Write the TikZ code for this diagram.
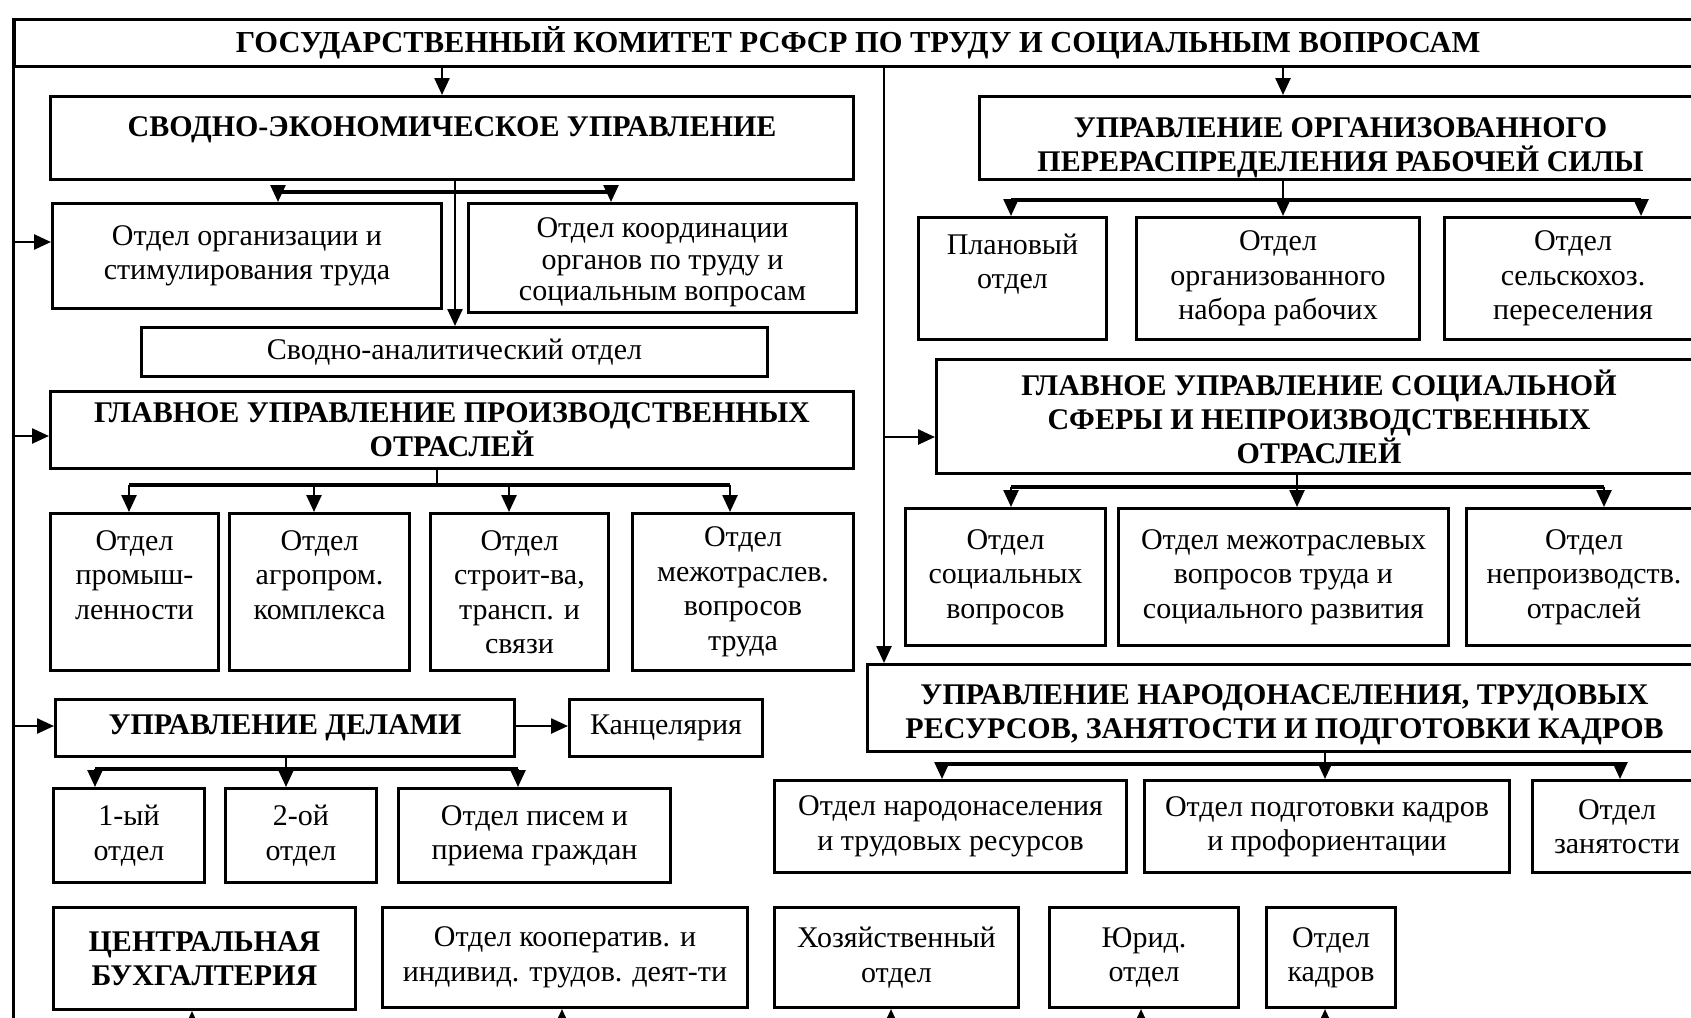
\documentclass[tikz,border=0pt]{standalone}
\usepackage{fontspec}
\setmainfont{Liberation Serif}
\usetikzlibrary{arrows.meta}
\begin{document}
\begin{tikzpicture}[x=1pt,y=-1pt,
  box/.style={draw, line width=3pt, inner sep=0pt, anchor=north west, align=center,
    font=\fontsize{30}{34.5}\selectfont},
  hd/.style={font=\fontsize{30}{34}\selectfont\bfseries},
  ln/.style={line width=2.5pt},
  bar/.style={line width=3.5pt},
  arr/.style={line width=2.5pt, -{Triangle[length=17pt,width=15pt]}}]
\useasboundingbox (0,0) rectangle (1691,1017);
\fill[white] (0,0) rectangle (1691,1017);
\clip (0,0) rectangle (1691,1017);
% ---- nodes
\node[box,hd,font=\fontsize{30.5}{34}\selectfont\bfseries,minimum width=1687pt,minimum height=47pt] (top) at (13,18) {ГОСУДАРСТВЕННЫЙ КОМИТЕТ РСФСР ПО ТРУДУ И СОЦИАЛЬНЫМ ВОПРОСАМ};
\node[box,hd,minimum width=803pt,minimum height=83pt,text height=22pt,text depth=25pt] (svod) at (49,95) {СВОДНО-ЭКОНОМИЧЕСКОЕ УПРАВЛЕНИЕ};
\node[box,minimum width=389pt,minimum height=105pt] (org) at (51,202) {Отдел организации и\\стимулирования труда};
\node[box,font=\fontsize{30}{31.5}\selectfont,minimum width=388pt,minimum height=109pt] (koord) at (467,202) {\rule{0pt}{29pt}Отдел координации\\органов по труду и\\социальным вопросам};
\node[box,minimum width=626pt,minimum height=49pt] (analit) at (140,326) {Сводно-аналитический отдел};
\node[box,hd,minimum width=803pt,minimum height=77pt] (proizv) at (49,390) {ГЛАВНОЕ УПРАВЛЕНИЕ ПРОИЗВОДСТВЕННЫХ\\ОТРАСЛЕЙ};
\node[box,minimum width=168pt,minimum height=157pt] (p1) at (49,512) {Отдел\\промыш-\\ленности\\~};
\node[box,minimum width=180pt,minimum height=157pt] (p2) at (228,512) {Отдел\\агропром.\\комплекса\\~};
\node[box,minimum width=178pt,minimum height=157pt] (p3) at (429,512) {Отдел\\строит-ва,\\трансп. и\\связи};
\node[box,minimum width=221pt,minimum height=157pt] (p4) at (631,512) {Отдел\\межотраслев.\\вопросов\\труда};
\node[box,hd,minimum width=459pt,minimum height=57pt] (dela) at (54,698) {УПРАВЛЕНИЕ ДЕЛАМИ};
\node[box,minimum width=193pt,minimum height=57pt] (kanc) at (568,698) {Канцелярия};
\node[box,minimum width=151pt,minimum height=94pt] (d1) at (52,787) {1-ый\\отдел};
\node[box,minimum width=151pt,minimum height=94pt] (d2) at (224,787) {2-ой\\отдел};
\node[box,minimum width=272pt,minimum height=94pt] (d3) at (397,787) {Отдел писем и\\приема граждан};
\node[box,hd,minimum width=302pt,minimum height=102pt] (buh) at (52,906) {ЦЕНТРАЛЬНАЯ\\БУХГАЛТЕРИЯ};
\node[box,minimum width=365pt,minimum height=100pt] (koop) at (381,906) {Отдел кооператив. и\\индивид. трудов. деят-ти};
\node[box,minimum width=244pt,minimum height=100pt] (hoz) at (773,906) {Хозяйственный\\отдел};
\node[box,minimum width=189pt,minimum height=100pt] (jur) at (1048,906) {Юрид.\\отдел};
\node[box,minimum width=129pt,minimum height=100pt] (kadr) at (1265,906) {Отдел\\кадров};
\node[box,hd,minimum width=722pt,minimum height=83pt] (orgper) at (978,95) {\rule{0pt}{39pt}УПРАВЛЕНИЕ ОРГАНИЗОВАННОГО\\ПЕРЕРАСПРЕДЕЛЕНИЯ РАБОЧЕЙ СИЛЫ};
\node[box,minimum width=188pt,minimum height=122pt] (plan) at (917,216) {Плановый\\отдел\\~};
\node[box,minimum width=283pt,minimum height=122pt] (nabor) at (1135,216) {Отдел\\организованного\\набора рабочих};
\node[box,minimum width=257pt,minimum height=122pt] (selsk) at (1443,216) {Отдел\\сельскохоз.\\переселения};
\node[box,hd,minimum width=765pt,minimum height=114pt] (socglav) at (935,358) {ГЛАВНОЕ УПРАВЛЕНИЕ СОЦИАЛЬНОЙ\\СФЕРЫ И НЕПРОИЗВОДСТВЕННЫХ\\ОТРАСЛЕЙ};
\node[box,minimum width=200pt,minimum height=137pt] (s1) at (904,507) {Отдел\\социальных\\вопросов};
\node[box,minimum width=330pt,minimum height=137pt] (s2) at (1117,507) {Отдел межотраслевых\\вопросов труда и\\социального развития};
\node[box,minimum width=235pt,minimum height=137pt] (s3) at (1465,507) {Отдел\\непроизводств.\\отраслей};
\node[box,hd,minimum width=834pt,minimum height=87pt] (narod) at (866,663) {\rule{0pt}{34pt}УПРАВЛЕНИЕ НАРОДОНАСЕЛЕНИЯ, ТРУДОВЫХ\\РЕСУРСОВ, ЗАНЯТОСТИ И ПОДГОТОВКИ КАДРОВ};
\node[box,minimum width=352pt,minimum height=92pt] (n1) at (773,779) {Отдел народонаселения\\и трудовых ресурсов};
\node[box,minimum width=365pt,minimum height=92pt] (n2) at (1143,779) {Отдел подготовки кадров\\и профориентации};
\node[box,minimum width=169pt,minimum height=92pt] (n3) at (1531,779) {Отдел\\занятости};
% ---- helper coordinates
\coordinate (bot) at (0,1035);
% left trunk
\draw[ln,line width=3pt] (top.north west) -- (top.north west |- bot);
\coordinate (y1) at (0,242); \coordinate (y2) at (0,436); \coordinate (y3) at (0,726);
\draw[arr] (top.north west |- y1) -- (org.west |- y1);
\draw[arr] (top.north west |- y2) -- (proizv.west |- y2);
\draw[arr] (top.north west |- y3) -- (dela.west |- y3);
\draw[arr] (dela.east |- y3) -- (kanc.west |- y3);
% top arrows
\coordinate (xa) at (442,0); \coordinate (xb) at (1283,0); \coordinate (xm) at (884,0);
\draw[arr] (xa |- top.south) -- (xa |- svod.north);
\draw[arr] (xb |- top.south) -- (xb |- orgper.north);
% middle trunk
\draw[arr] (xm |- top.south) -- (xm |- narod.north);
\coordinate (y4) at (0,437);
\draw[arr] (xm |- y4) -- (socglav.west |- y4);
% svod
\coordinate (xs) at (455,0); \coordinate (ys) at (0,192);
\coordinate (xo) at (278,0); \coordinate (xk) at (611,0);
\draw[arr] (xs |- svod.south) -- (xs |- analit.north);
\draw[bar] (xo |- ys) -- (xk |- ys);
\draw[arr] (xo |- ys) -- (xo |- org.north);
\draw[arr] (xk |- ys) -- (xk |- koord.north);
% proizv
\coordinate (xp) at (437,0); \coordinate (yp) at (0,485);
\coordinate (xp1) at (129,0); \coordinate (xp2) at (314,0); \coordinate (xp3) at (509,0); \coordinate (xp4) at (730,0);
\draw[ln] (xp |- proizv.south) -- (xp |- yp);
\draw[bar] (xp1 |- yp) -- (xp4 |- yp);
\draw[arr] (xp1 |- yp) -- (xp1 |- p1.north);
\draw[arr] (xp2 |- yp) -- (xp2 |- p2.north);
\draw[arr] (xp3 |- yp) -- (xp3 |- p3.north);
\draw[arr] (xp4 |- yp) -- (xp4 |- p4.north);
% dela
\coordinate (xd) at (286,0); \coordinate (yd) at (0,769);
\coordinate (xd1) at (95,0); \coordinate (xd3) at (518,0);
\draw[ln] (xd |- dela.south) -- (xd |- yd);
\draw[bar] (xd1 |- yd) -- (xd3 |- yd);
\draw[arr] (xd1 |- yd) -- (xd1 |- d1.north);
\draw[arr] (xd |- yd) -- (xd |- d2.north);
\draw[arr] (xd3 |- yd) -- (xd3 |- d3.north);
% bottom arrows
\coordinate (xu1) at (192,0); \coordinate (xu2) at (562,0); \coordinate (xu3) at (891,0);
\coordinate (xu4) at (1141,0); \coordinate (xu5) at (1325,0);
\draw[arr] (xu1 |- bot) -- (xu1 |- buh.south);
\draw[arr] (xu2 |- bot) -- (xu2 |- koop.south);
\draw[arr] (xu3 |- bot) -- (xu3 |- hoz.south);
\draw[arr] (xu4 |- bot) -- (xu4 |- jur.south);
\draw[arr] (xu5 |- bot) -- (xu5 |- kadr.south);
% orgper
\coordinate (yo) at (0,200); \coordinate (xo1) at (1011,0); \coordinate (xo3) at (1641,0);
\draw[ln] (xb |- orgper.south) -- (xb |- yo);
\draw[bar] (xo1 |- yo) -- (xo3 |- yo);
\draw[arr] (xo1 |- yo) -- (xo1 |- plan.north);
\draw[arr] (xb |- yo) -- (xb |- nabor.north);
\draw[arr] (xo3 |- yo) -- (xo3 |- selsk.north);
% socglav
\coordinate (xc) at (1297,0); \coordinate (yc) at (0,487); \coordinate (xc3) at (1604,0);
\draw[ln] (xc |- socglav.south) -- (xc |- yc);
\draw[bar] (xo1 |- yc) -- (xc3 |- yc);
\draw[arr] (xo1 |- yc) -- (xo1 |- s1.north);
\draw[arr] (xc |- yc) -- (xc |- s2.north);
\draw[arr] (xc3 |- yc) -- (xc3 |- s3.north);
% narod
\coordinate (xn) at (1325,0); \coordinate (yn) at (0,764);
\coordinate (xn1) at (942,0); \coordinate (xn3) at (1620,0);
\draw[ln] (xn |- narod.south) -- (xn |- yn);
\draw[bar] (xn1 |- yn) -- (xn3 |- yn);
\draw[arr] (xn1 |- yn) -- (xn1 |- n1.north);
\draw[arr] (xn |- yn) -- (xn |- n2.north);
\draw[arr] (xn3 |- yn) -- (xn3 |- n3.north);
\end{tikzpicture}
\end{document}
